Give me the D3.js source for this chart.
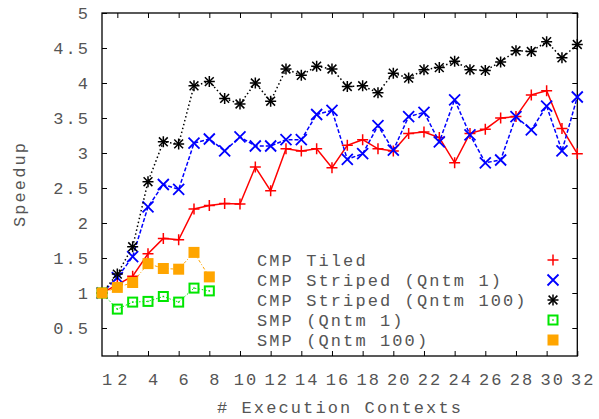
<!DOCTYPE html>
<html>
<head>
<meta charset="utf-8">
<script src="https://cdn.jsdelivr.net/npm/d3@7"></script>
<style>
  body { margin: 0; background: #fff; }
  text { font-family: "Liberation Mono", "DejaVu Sans Mono", monospace; fill: #555; }
</style>
</head>
<body>
<div id="chart"></div>
<script>
// execution contexts
const contexts = d3.range(1, 33);
const smpContexts = d3.range(1, 9);

// speedup values
const cmpTiled = [1.00, 1.12, 1.24, 1.56, 1.78, 1.76, 2.20, 2.25, 2.28, 2.27, 2.80, 2.46, 3.06, 3.03, 3.06, 2.79,
                  3.11, 3.19, 3.06, 3.03, 3.28, 3.30, 3.22, 2.86, 3.28, 3.34, 3.50, 3.52, 3.83, 3.89, 3.35, 2.99];
const cmpStriped1 = [1.00, 1.22, 1.52, 2.23, 2.55, 2.48, 3.14, 3.20, 3.03, 3.23, 3.10, 3.10, 3.19, 3.19, 3.55, 3.61,
                     2.91, 2.99, 3.39, 3.04, 3.52, 3.58, 3.16, 3.76, 3.26, 2.86, 2.90, 3.52, 3.33, 3.67, 3.03, 3.80];
const cmpStriped100 = [1.00, 1.27, 1.66, 2.59, 3.16, 3.13, 3.96, 4.02, 3.78, 3.70, 4.00, 3.74, 4.20, 4.11, 4.24, 4.20,
                       3.95, 3.96, 3.86, 4.14, 4.07, 4.19, 4.22, 4.31, 4.19, 4.18, 4.30, 4.46, 4.45, 4.59, 4.36, 4.55];
const smp1 = [1.00, 0.77, 0.87, 0.88, 0.95, 0.87, 1.07, 1.03];
const smp100 = [1.00, 1.08, 1.15, 1.42, 1.35, 1.34, 1.58, 1.23];

const xTicks = [2, 4, 6, 8, 10, 12, 14, 16, 18, 20, 22, 24, 26, 28, 30, 32];
const xLabels = [1].concat(xTicks);
const yTicks = [0.5, 1, 1.5, 2, 2.5, 3, 3.5, 4, 4.5, 5];

const series = [
  {name: "CMP Tiled", xs: contexts, ys: cmpTiled, color: "#ff0000", dash: null, width: 1.5, mark: "plus"},
  {name: "CMP Striped (Qntm 1)", xs: contexts, ys: cmpStriped1, color: "#0000ff", dash: "4,2", width: 1.5, mark: "cross"},
  {name: "CMP Striped (Qntm 100)", xs: contexts, ys: cmpStriped100, color: "#000000", dash: "1.5,2.5", width: 1.5, mark: "star"},
  {name: "SMP (Qntm 1)", xs: smpContexts, ys: smp1, color: "#00e600", dash: "1.5,2", width: 1, mark: "boxdot"},
  {name: "SMP (Qntm 100)", xs: smpContexts, ys: smp100, color: "#ffa500", dash: "3,2,1,2", width: 1, mark: "fillbox"}
];

const width = 599, height = 419;
const svg = d3.select("#chart").append("svg")
  .attr("width", width)
  .attr("height", height);

const x = d3.scaleLinear().domain([1, 32]).range([102, 577.3]);
const y = d3.scaleLinear().domain([0.1, 5]).range([356, 13]);

// ticks (inward, mirrored)
svg.append("g").attr("transform", `translate(0,${y(0.1)})`)
  .call(d3.axisBottom(x).tickValues(xTicks).tickSize(-5).tickFormat(""))
  .call(g => g.select(".domain").remove());
svg.append("g").attr("transform", `translate(0,${y(5)})`)
  .call(d3.axisTop(x).tickValues(xTicks).tickSize(-5).tickFormat(""))
  .call(g => g.select(".domain").remove());
svg.append("g").attr("transform", `translate(${x(1)},0)`)
  .call(d3.axisLeft(y).tickValues(yTicks).tickSize(-5).tickFormat(""))
  .call(g => g.select(".domain").remove());
svg.append("g").attr("transform", `translate(${x(32)},0)`)
  .call(d3.axisRight(y).tickValues(yTicks).tickSize(-5).tickFormat(""))
  .call(g => g.select(".domain").remove());
svg.selectAll(".tick line").attr("stroke", "#000").attr("stroke-width", 1);

// frame
svg.append("rect")
  .attr("x", x(1)).attr("y", y(5))
  .attr("width", x(32) - x(1)).attr("height", y(0.1) - y(5))
  .attr("fill", "none").attr("stroke", "#000").attr("stroke-width", 1.3);

// tick labels
const fontSize = 17, spacing = 2.1;
svg.append("g").selectAll("text")
  .data(xLabels).enter().append("text")
  .attr("x", d => x(d) + 5 + spacing / 2)
  .attr("y", 385)
  .attr("text-anchor", "middle")
  .attr("font-size", fontSize)
  .attr("letter-spacing", spacing)
  .text(d => d);

svg.append("g").selectAll("text")
  .data(yTicks).enter().append("text")
  .attr("x", 88 + spacing)
  .attr("y", d => y(d) + 5.5)
  .attr("text-anchor", "end")
  .attr("font-size", fontSize)
  .attr("letter-spacing", spacing)
  .text(d => d);

// axis titles
svg.append("text")
  .attr("transform", "translate(25,184) rotate(-90)")
  .attr("text-anchor", "middle")
  .attr("font-size", fontSize)
  .attr("letter-spacing", spacing)
  .text("Speedup");

svg.append("text")
  .attr("x", 340).attr("y", 413)
  .attr("text-anchor", "middle")
  .attr("font-size", fontSize)
  .attr("letter-spacing", spacing)
  .text("# Execution Contexts");

// marker drawing
function drawMark(g, type, cx, cy, color) {
  const r = 5.5;
  if (type === "plus" || type === "star") {
    g.append("path").attr("d", `M${cx - r},${cy}H${cx + r}M${cx},${cy - r}V${cy + r}`)
      .attr("stroke", color).attr("stroke-width", 1.5).attr("fill", "none");
  }
  if (type === "cross" || type === "star") {
    const q = type === "star" ? r * 0.8 : r;
    g.append("path").attr("d", `M${cx - q},${cy - q}L${cx + q},${cy + q}M${cx - q},${cy + q}L${cx + q},${cy - q}`)
      .attr("stroke", color).attr("stroke-width", type === "star" ? 1.5 : 1.8).attr("fill", "none");
  }
  if (type === "boxdot") {
    g.append("rect").attr("x", cx - 4.5).attr("y", cy - 4.5).attr("width", 9).attr("height", 9)
      .attr("fill", "none").attr("stroke", color).attr("stroke-width", 2);
    g.append("rect").attr("x", cx - 0.75).attr("y", cy - 0.75).attr("width", 1.5).attr("height", 1.5)
      .attr("fill", color);
  }
  if (type === "fillbox") {
    g.append("rect").attr("x", cx - 5.5).attr("y", cy - 5.5).attr("width", 11).attr("height", 11)
      .attr("fill", color);
  }
}

const line = d3.line().x(d => x(d[0])).y(d => y(d[1]));

series.forEach(s => {
  const pts = s.xs.map((v, i) => [v, s.ys[i]]);
  const g = svg.append("g");
  g.append("path").datum(pts)
    .attr("d", line)
    .attr("fill", "none")
    .attr("stroke", s.color)
    .attr("stroke-width", s.width)
    .attr("stroke-dasharray", s.dash);
  pts.forEach(p => drawMark(g, s.mark, x(p[0]), y(p[1]), s.color));
});

// legend
const legend = svg.append("g");
series.forEach((s, i) => {
  legend.append("text")
    .attr("x", 257).attr("y", 265.5 + i * 20)
    .attr("font-size", fontSize)
    .attr("letter-spacing", spacing)
    .text(s.name);
  drawMark(legend, s.mark, 553, 260 + i * 20, s.color);
});
</script>
</body>
</html>
